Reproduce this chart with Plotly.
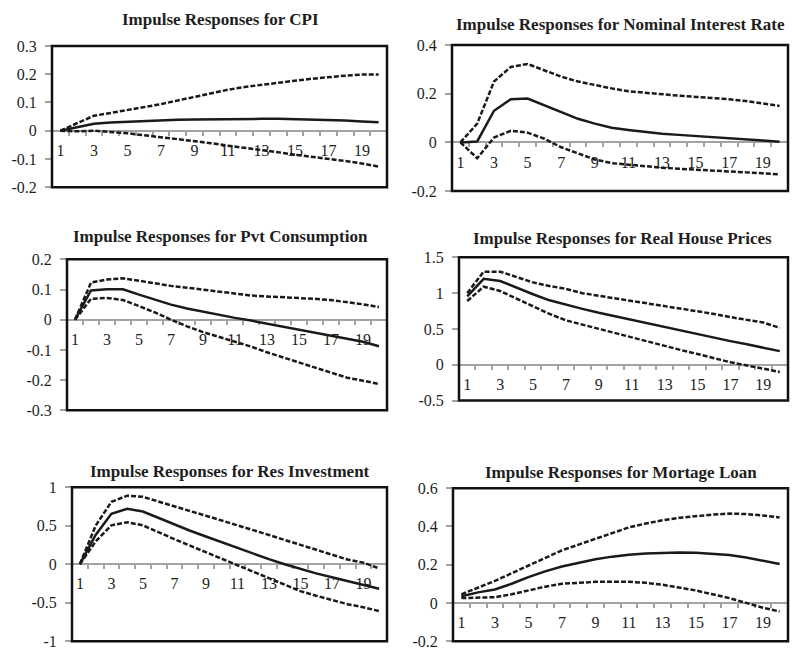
import plotly.graph_objects as go

# Horizon (quarters after the shock)
periods = list(range(1, 21))
xtick_labels = [str(p) for p in range(1, 20, 2)]

# CPI
cpi_irf = [0, 0.012, 0.025, 0.029, 0.032, 0.035, 0.037, 0.039, 0.040, 0.041,
           0.042, 0.042, 0.042, 0.042, 0.041, 0.040, 0.038, 0.036, 0.033, 0.030]
cpi_upper = [0, 0.027, 0.053, 0.063, 0.073, 0.083, 0.094, 0.107, 0.120, 0.133,
             0.145, 0.155, 0.163, 0.170, 0.177, 0.184, 0.190, 0.195, 0.199, 0.199]
cpi_lower = [0, -0.002, 0.0, -0.004, -0.009, -0.016, -0.023, -0.030, -0.036, -0.044,
             -0.053, -0.060, -0.068, -0.076, -0.085, -0.092, -0.099, -0.107, -0.116, -0.127]

# Nominal interest rate
rate_irf = [0, 0.004, 0.130, 0.177, 0.180, 0.153, 0.124, 0.097, 0.077, 0.060,
            0.051, 0.043, 0.036, 0.031, 0.027, 0.021, 0.017, 0.013, 0.008, 0.003]
rate_upper = [0, 0.077, 0.250, 0.310, 0.322, 0.295, 0.270, 0.250, 0.235, 0.222,
              0.210, 0.205, 0.198, 0.192, 0.187, 0.183, 0.177, 0.170, 0.160, 0.150]
rate_lower = [0, -0.065, 0.020, 0.048, 0.040, 0.015, -0.020, -0.045, -0.070, -0.085,
              -0.092, -0.098, -0.104, -0.108, -0.111, -0.115, -0.119, -0.123, -0.127, -0.131]

# Private consumption
cons_irf = [0, 0.097, 0.101, 0.101, 0.083, 0.067, 0.050, 0.037, 0.026, 0.015,
            0.006, -0.003, -0.013, -0.023, -0.033, -0.043, -0.053, -0.062, -0.073, -0.088]
cons_upper = [0, 0.123, 0.133, 0.137, 0.129, 0.120, 0.112, 0.106, 0.099, 0.092,
              0.086, 0.080, 0.077, 0.075, 0.072, 0.069, 0.065, 0.059, 0.051, 0.042]
cons_lower = [0, 0.069, 0.072, 0.065, 0.045, 0.024, 0.0, -0.022, -0.041, -0.057,
              -0.073, -0.089, -0.108, -0.125, -0.140, -0.157, -0.175, -0.192, -0.202, -0.213]

# Real house prices
house_irf = [0.955, 1.20, 1.17, 1.075, 0.985, 0.900, 0.835, 0.780, 0.725, 0.675,
             0.620, 0.575, 0.525, 0.475, 0.420, 0.375, 0.330, 0.285, 0.240, 0.190]
house_upper = [1.00, 1.30, 1.30, 1.23, 1.15, 1.10, 1.06, 1.00, 0.96, 0.925,
               0.89, 0.855, 0.82, 0.785, 0.75, 0.71, 0.665, 0.63, 0.59, 0.515]
house_lower = [0.89, 1.09, 1.03, 0.925, 0.815, 0.71, 0.62, 0.56, 0.505, 0.44,
               0.375, 0.32, 0.26, 0.205, 0.15, 0.09, 0.035, -0.01, -0.055, -0.10]

# Residential investment
inv_irf = [0, 0.38, 0.655, 0.72, 0.685, 0.60, 0.52, 0.435, 0.36, 0.285,
           0.21, 0.14, 0.065, 0.0, -0.065, -0.12, -0.17, -0.22, -0.265, -0.32]
inv_upper = [0, 0.50, 0.81, 0.89, 0.875, 0.81, 0.745, 0.69, 0.63, 0.57,
             0.505, 0.44, 0.38, 0.315, 0.25, 0.18, 0.115, 0.06, 0.02, -0.055]
inv_lower = [0, 0.295, 0.505, 0.545, 0.505, 0.41, 0.325, 0.24, 0.155, 0.07,
             -0.01, -0.10, -0.19, -0.275, -0.35, -0.41, -0.465, -0.52, -0.56, -0.61]

# Mortgage loans
loan_irf = [0.035, 0.055, 0.070, 0.100, 0.135, 0.165, 0.190, 0.210, 0.228, 0.242,
            0.252, 0.258, 0.262, 0.263, 0.262, 0.257, 0.250, 0.238, 0.222, 0.203]
loan_upper = [0.045, 0.080, 0.115, 0.155, 0.195, 0.235, 0.275, 0.305, 0.335, 0.365,
              0.395, 0.415, 0.432, 0.445, 0.455, 0.462, 0.467, 0.465, 0.457, 0.447]
loan_lower = [0.025, 0.028, 0.030, 0.045, 0.065, 0.085, 0.100, 0.105, 0.110, 0.110,
              0.110, 0.105, 0.095, 0.080, 0.065, 0.045, 0.025, 0.0, -0.025, -0.045]

titles = [
    "Impulse Responses for CPI",
    "Impulse Responses for Nominal Interest Rate",
    "Impulse Responses for Pvt Consumption",
    "Impulse Responses for Real House Prices",
    "Impulse Responses for Res Investment",
    "Impulse Responses for Mortage Loan",
]
series = [
    (cpi_irf, cpi_upper, cpi_lower),
    (rate_irf, rate_upper, rate_lower),
    (cons_irf, cons_upper, cons_lower),
    (house_irf, house_upper, house_lower),
    (inv_irf, inv_upper, inv_lower),
    (loan_irf, loan_upper, loan_lower),
]
# y-axis (min, max, step) for each panel
y_scales = [
    (-0.2, 0.3, 0.1),
    (-0.2, 0.4, 0.2),
    (-0.3, 0.2, 0.1),
    (-0.5, 1.5, 0.5),
    (-1.0, 1.0, 0.5),
    (-0.2, 0.6, 0.2),
]

# Plot-area boxes in pixels: left, right, top, bottom
W, H = 793, 655
boxes = [
    (52, 387, 39, 184),
    (452, 788, 38, 188),
    (67, 387, 258, 413),
    (459, 788, 256, 403),
    (72, 387, 492, 650),
    (453, 788, 493, 650),
]
title_pos = [(220, 12), (620, 17), (220, 235), (622, 237), (230, 476), (621, 477)]

FONT = "Liberation Serif"
GRAY = "#a3a3a3"
INK = "#1e1e1e"
LINE = "#1a1a1a"


def fmt(v):
    v = round(v, 6)
    if abs(v) < 1e-9:
        return "0"
    s = ("%.2f" % v).rstrip("0").rstrip(".")
    return s


fig = go.Figure()
layout = dict(
    width=W, height=H,
    margin=dict(l=0, r=0, t=0, b=0),
    paper_bgcolor="white", plot_bgcolor="white",
    showlegend=False,
    font=dict(family=FONT, size=16, color=INK),
)
shapes = []
annotations = []

for i, (irf, up, lo) in enumerate(series):
    n = i + 1
    xa = "x" if n == 1 else f"x{n}"
    ya = "y" if n == 1 else f"y{n}"
    l, r, t, b = boxes[i]
    ymin, ymax, step = y_scales[i]
    ydom = [1 - b / H, 1 - t / H]
    xdom = [l / W, r / W]

    for vals, dash in ((up, "5px,2px"), (lo, "5px,2px"), (irf, "solid")):
        fig.add_trace(go.Scatter(
            x=periods, y=vals, mode="lines", xaxis=xa, yaxis=ya,
            line=dict(color=LINE, width=2.5, dash=dash),
            hoverinfo="skip",
        ))

    nt = int(round((ymax - ymin) / step))
    yvals = [ymin + k * step for k in range(nt + 1)]
    zero_pos = ydom[0] + (0 - ymin) / (ymax - ymin) * (ydom[1] - ydom[0])

    layout[f"xaxis{'' if n == 1 else n}"] = dict(
        domain=xdom, anchor="free", position=zero_pos,
        range=[0.5, 20.5], showgrid=False, zeroline=False,
        showline=True, linecolor=GRAY, linewidth=2, layer="below traces",
        tickmode="array", tickvals=list(range(1, 20, 2)), ticktext=xtick_labels,
        ticks="", ticklabelstandoff=5,
        minor=dict(tickmode="array", tickvals=[k + 0.5 for k in range(0, 21)],
                   ticks="outside", ticklen=4, tickwidth=2, tickcolor=GRAY),
        tickfont=dict(family=FONT, size=16, color=INK),
    )
    layout[f"yaxis{'' if n == 1 else n}"] = dict(
        domain=ydom, anchor=xa, range=[ymin, ymax],
        showgrid=False, zeroline=False, showline=False, layer="below traces",
        tickmode="array", tickvals=yvals, ticktext=[fmt(v) for v in yvals],
        ticks="outside", ticklen=6, tickwidth=2, tickcolor=GRAY,
        ticklabelstandoff=5,
        tickfont=dict(family=FONT, size=16, color=INK),
    )
    shapes.append(dict(
        type="rect", xref=f"{xa} domain", yref=f"{ya} domain",
        x0=0, x1=1, y0=0, y1=1, line=dict(color="#111111", width=2.5),
        layer="above",
    ))
    tx, ty = title_pos[i]
    annotations.append(dict(
        text=f"<b>{titles[i]}</b>", xref="paper", yref="paper",
        x=tx / W, y=1 - ty / H, xanchor="center", yanchor="middle",
        showarrow=False, font=dict(family=FONT, size=17, color=INK),
    ))

layout["shapes"] = shapes
layout["annotations"] = annotations
fig.update_layout(**layout)
fig.write_html("out.html")
